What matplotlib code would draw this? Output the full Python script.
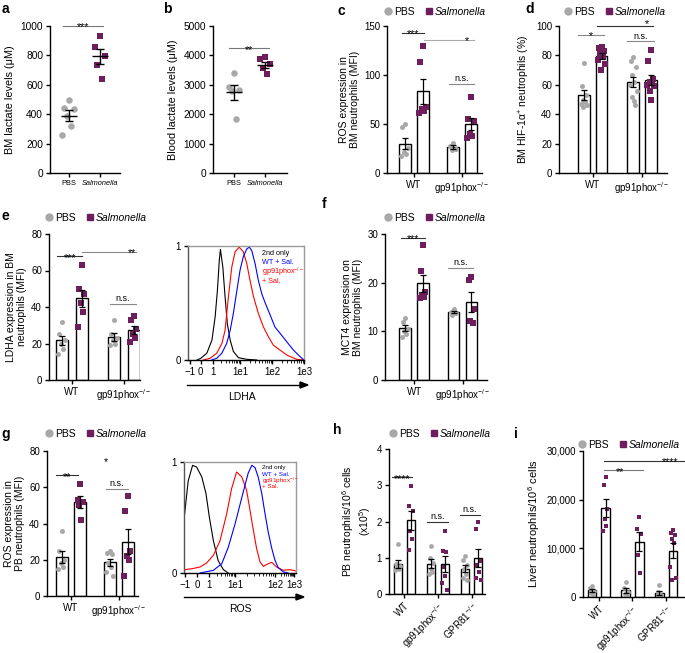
import numpy as np
import matplotlib.pyplot as plt
from matplotlib.lines import Line2D

plt.rcParams['font.family'] = ['Liberation Sans', 'DejaVu Sans']
plt.rcParams['mathtext.fontset'] = 'custom'
plt.rcParams['mathtext.rm'] = 'Liberation Sans'
plt.rcParams['mathtext.it'] = 'Liberation Sans:italic'
plt.rcParams['axes.linewidth'] = 1.0
plt.rcParams['xtick.major.width'] = 1.0
plt.rcParams['ytick.major.width'] = 1.0
plt.rcParams['xtick.major.size'] = 3
plt.rcParams['ytick.major.size'] = 3
plt.rcParams['xtick.major.pad'] = 2
plt.rcParams['ytick.major.pad'] = 2

W, H = 685, 653
PURPLE = '#6e1e5c'
GREY = '#a8a8a8'

# ---------------- data ----------------
# a / b : lactate
a_pbs = [500, 440, 432, 390, 320, 260]
a_sal = [935, 860, 795, 735, 640]
b_pbs = [3390, 2910, 2820, 2800, 1820]
b_sal = [3930, 3865, 3705, 3555, 3365]

geno2 = ['WT', 'gp91phox$^{-/-}$']
geno3 = ['WT', 'gp91phox$^{-/-}$', 'GPR81$^{-/-}$']

# c : ROS in BM neutrophils
c_pbs = [[50, 47, 26, 21, 19, 17], [31, 28, 25, 23]]
c_sal = [[130, 113, 67, 65, 63, 61], [78, 55, 53, 40, 38, 36]]
# d : HIF-1a+ neutrophils
d_pbs = [[75, 59, 53, 50, 48, 47, 46, 45], [79, 76, 72, 67, 62, 60, 56, 52, 49, 46]]
d_sal = [[86, 85, 83, 81, 79, 77, 74, 70], [84, 76, 64, 62, 61, 60, 59, 56, 50]]
# e : LDHA
e_pbs = [[32, 25, 22, 20, 17, 14], [33, 25, 23, 22, 20, 19]]
e_sal = [[63, 50, 47, 42, 37, 29], [35, 33, 28, 25, 23, 21]]
# f : MCT4
f_pbs = [[12.8, 12.0, 10.5, 10.0, 9.5, 8.8], [14.5, 14.0, 13.7, 13.4]]
f_sal = [[27.7, 22.4, 18.0, 17.5, 17.0, 16.8], [21.2, 20.6, 14.5, 12.2, 11.8]]
# g : ROS in PB neutrophils
g_pbs = [[36, 25, 20, 18, 16, 15], [25, 24, 23, 18, 16, 13, 11]]
g_sal = [[62, 53, 52, 50, 42], [55, 47, 25, 22, 20, 11]]
# h : PB neutrophils
h_pbs = [[1.37, 0.82, 0.78, 0.72, 0.68, 0.65], [1.33, 1.0, 0.85, 0.7, 0.6, 0.55],
         [1.05, 0.95, 0.8, 0.7, 0.55, 0.45, 0.4]]
h_sal = [[2.98, 2.42, 2.3, 1.75, 1.52, 1.22], [1.75, 1.2, 1.15, 0.75, 0.5, 0.3, 0.1],
         [2.0, 1.78, 0.9, 0.8, 0.6, 0.45, 0.4]]
# i : liver neutrophils
i_pbs = [[2300, 1900, 1200, 900, 500], [3100, 1800, 1000, 700, 300], [2500, 1000, 500, 300, 200]]
i_sal = [[24700, 23000, 18000, 16000, 14500, 13500], [16400, 14000, 13000, 8600, 5000],
         [13700, 13200, 12800, 12000, 11000, 6200, 4000, 3500]]

# histogram curves (x in display decades, y normalised to mode)
e_black_x = [-0.35, -0.23, -0.04, 0.12, 0.22, 0.29, 0.35, 0.385, 0.46, 0.53, 0.60, 0.69, 0.79, 0.95, 1.21, 1.52]
e_black_y = [0, 0.015, 0.06, 0.175, 0.38, 0.61, 0.875, 0.97, 0.815, 0.555, 0.32, 0.175, 0.075, 0.02, 0.006, 0]
e_blue_x = [0.115, 0.27, 0.43, 0.58, 0.69, 0.79, 0.90, 1.0, 1.10, 1.21, 1.29, 1.365, 1.47, 1.57, 1.68, 1.78,
            1.94, 2.09, 2.25, 2.46, 2.67, 2.875, 3.0]
e_blue_y = [0, 0.015, 0.06, 0.145, 0.26, 0.41, 0.61, 0.79, 0.905, 0.975, 0.99, 0.96, 0.845, 0.70, 0.58, 0.505,
            0.395, 0.29, 0.235, 0.16, 0.087, 0.03, 0]
e_red_x = [-0.15, 0.06, 0.27, 0.43, 0.53, 0.635, 0.74, 0.845, 0.97, 1.10, 1.21, 1.31, 1.42, 1.57, 1.73, 1.885,
           2.04, 2.25, 2.46, 2.77, 3.0]
e_red_y = [0, 0.015, 0.06, 0.145, 0.26, 0.555, 0.815, 0.95, 0.99, 0.95, 0.845, 0.70, 0.555, 0.41, 0.29, 0.205,
           0.13, 0.087, 0.044, 0.006, 0]
e_ticks = [-0.58, -0.23, 0.15, 1, 2, 3]

g_black_x = [-0.26, -0.17, -0.06, 0.04, 0.17, 0.275, 0.36, 0.46, 0.58, 0.71, 0.83]
g_black_y = [0.53, 0.83, 0.97, 0.955, 0.865, 0.715, 0.5, 0.29, 0.11, 0.03, 0]
g_blue_x = [0.125, 0.46, 0.67, 0.83, 1.0, 1.17, 1.33, 1.42, 1.5, 1.58, 1.67, 1.75, 1.83, 1.92, 2.0, 2.08, 2.21, 2.33]
g_blue_y = [0, 0.024, 0.084, 0.23, 0.44, 0.68, 0.9, 0.97, 0.95, 0.865, 0.715, 0.535, 0.37, 0.22, 0.114, 0.048,
            0.009, 0]
g_red_x = [-0.26, -0.06, 0.125, 0.29, 0.46, 0.625, 0.79, 0.915, 1.04, 1.17, 1.29, 1.375, 1.46, 1.54, 1.625, 1.71,
           1.83, 1.92, 2.04, 2.21, 2.375, 2.525]
g_red_y = [0.03, 0.04, 0.054, 0.09, 0.16, 0.29, 0.53, 0.76, 0.91, 0.865, 0.745, 0.565, 0.384, 0.22, 0.1, 0.06,
           0.084, 0.096, 0.054, 0.024, 0.03, 0.018]
g_ticks = [-0.25, 0.05, 0.35, 1, 2, 2.475]
hist_labels = ['\u22121', '0', '1', '1e1', '1e2', '1e3']

# ---------------- helpers ----------------
fig = plt.figure(figsize=(W / 100, H / 100), dpi=100)


def px_ax(l, t, r, b):
    return fig.add_axes([l / W, 1 - b / H, (r - l) / W, (b - t) / H])


def ftext(x, y, s, **kw):
    fig.text(x / W, 1 - y / H, s, **kw)


JIT = np.array([0, -0.7, 0.7, -0.35, 0.35, -1, 1, -0.2, 0.2, 0.55])


def sem(v):
    v = np.asarray(v, float)
    return v.std(ddof=1) / np.sqrt(len(v))


def sig(ax, x1, x2, y, txt='', color='#555555', tx=None, stars=True, fs=None, dy=-3.2):
    ax.plot([x1, x2], [y, y], color=color, lw=0.8, clip_on=False)
    if txt:
        tx = (x1 + x2) / 2 if tx is None else tx
        if stars:
            ax.annotate(txt, (tx, y), xytext=(0, dy), textcoords='offset points',
                        ha='center', va='baseline', fontsize=fs or 7.8, annotation_clip=False)
        else:
            ax.annotate(txt, (tx, y), xytext=(0, 0.5), textcoords='offset points',
                        ha='center', va='bottom', fontsize=fs or 6.5, annotation_clip=False)


def legend_at(x, y, fs=7.5):
    hd = [Line2D([], [], marker='o', ls='', color=GREY, ms=5),
          Line2D([], [], marker='s', ls='', color=PURPLE, ms=4.5)]
    leg = fig.legend(hd, ['PBS', 'Salmonella'], loc='center left', bbox_to_anchor=(x / W, 1 - y / H),
                     ncol=2, frameon=False, fontsize=fs, handletextpad=0.2, columnspacing=0.9,
                     borderaxespad=0, borderpad=0, handlelength=0.8)
    leg.get_texts()[1].set_style('italic')


def bar_panel(box, pbs, sal, ylim, yticks, ylabel, xlim, xlabels, off, bw, ms=13,
              yticklabels=None, rot=0, lab_fs=7.5, tick_fs=7):
    ax = px_ax(*box)
    for i in range(len(pbs)):
        for vals, dx, mk, col in ((pbs[i], -off, 'o', GREY), (sal[i], off, 's', PURPLE)):
            x = i + dx
            m = np.mean(vals)
            ax.bar(x, m, bw, color='white', edgecolor='black', lw=1, zorder=1)
            ax.scatter(x + JIT[:len(vals)] * bw * 0.3, vals, s=ms, marker=mk, color=col, lw=0, zorder=2)
            ax.errorbar(x, m, yerr=sem(vals), color='black', capsize=2, lw=0.9, capthick=0.9, zorder=3)
    ax.spines[['top', 'right']].set_visible(False)
    ax.set_xlim(*xlim)
    ax.set_ylim(*ylim)
    ax.set_yticks(yticks)
    if yticklabels:
        ax.set_yticklabels(yticklabels)
    ax.set_xticks(range(len(pbs)))
    if rot:
        ax.set_xticklabels(xlabels, rotation=rot, ha='right', rotation_mode='anchor')
    else:
        ax.set_xticklabels(xlabels)
    ax.tick_params(labelsize=tick_fs)
    ax.set_ylabel(ylabel, fontsize=lab_fs, labelpad=3, linespacing=1.1)
    return ax


def dot_panel(box, pbs, sal, ylim, yticks, ylabel, xlim):
    ax = px_ax(*box)
    for i, (vals, mk, col) in enumerate(((pbs, 'o', GREY), (sal, 's', PURPLE))):
        m = np.mean(vals)
        ax.scatter(i + JIT[:len(vals)] * 0.22, vals, s=22, marker=mk, color=col, lw=0, zorder=2)
        ax.hlines(m, i - 0.25, i + 0.25, color='black', lw=1, zorder=3)
        ax.errorbar(i, m, yerr=sem(vals), color='black', capsize=3, lw=1, capthick=1, zorder=3)
    ax.spines[['top', 'right']].set_visible(False)
    ax.set_xlim(*xlim)
    ax.set_ylim(*ylim)
    ax.set_yticks(yticks)
    ax.set_xticks([0, 1])
    ax.set_xticklabels(['PBS', 'Salmonella'], fontsize=5.3)
    ax.get_xticklabels()[1].set_style('italic')
    ax.tick_params(axis='y', labelsize=7.3)
    ax.set_ylabel(ylabel, fontsize=7.8, labelpad=4)
    return ax


def hist_panel(box, curves, ticks, xlim, minors, txt_xy, txt_fs, txt_dy, arrow, label, label_xy):
    ax = px_ax(*box)
    for (xs, ys), c in zip(curves, ['black', 'red', 'blue']):
        ax.plot(xs, ys, color=c, lw=0.8)
    ax.set_xlim(*xlim)
    ax.set_ylim(0, 1)
    ax.set_xticks(ticks)
    ax.set_xticklabels(hist_labels, fontsize=7)
    ax.set_xticks(minors, minor=True)
    ax.tick_params(axis='x', which='minor', length=1.8, width=0.6)
    ax.set_yticks([0, 1])
    ax.set_yticklabels(['0', '1'], fontsize=7)
    for s in ('top', 'right'):
        ax.spines[s].set_color('#9a9a9a')
    ax.spines['left'].set_color('#555555')
    x0, y0 = txt_xy
    for k, (s, c) in enumerate((('2nd only', 'black'), ('WT + Sal.', 'blue'),
                                ('gp91phox$^{-/-}$', 'red'), ('+ Sal.', 'red'))):
        ftext(x0, y0 + k * txt_dy, s, color=c, fontsize=txt_fs, va='center', ha='left')
    (ax1, ax2, ay) = arrow
    fig.add_artist(plt.Line2D([ax1 / W, ax2 / W], [1 - ay / H, 1 - ay / H], color='black', lw=1))
    fig.patches.append(plt.Polygon([[ax2 / W, 1 - (ay - 3) / H], [(ax2 + 8) / W, 1 - ay / H],
                                    [ax2 / W, 1 - (ay + 3) / H]], closed=True, color='black',
                                   transform=fig.transFigure, figure=fig))
    ftext(label_xy[0], label_xy[1], label, fontsize=7.5, ha='center', va='center')
    return ax


def minor_ticks(start, end, span):
    return [start + span * np.log10(k) for k in range(2, 10)] if end else []


# ---------------- panels ----------------
# a
ax = dot_panel((50, 26, 120, 173), a_pbs, a_sal, (0, 1000), [0, 200, 400, 600, 800, 1000],
               'BM lactate levels (\u03bcM)', (-0.61, 1.65))
sig(ax, -0.2, 1.1, 1000, '***', color='#777777')
# b
ax = dot_panel((213, 26, 287, 173), b_pbs, b_sal, (0, 5000), [0, 1000, 2000, 3000, 4000, 5000],
               'Blood lactate levels (\u03bcM)', (-0.68, 1.71))
sig(ax, -0.16, 1.13, 4240, '**', color='#777777')

# c
ax = bar_panel((387, 26, 482, 173), c_pbs, c_sal, (0, 150), [0, 50, 100, 150],
               'ROS expression in\nBM neutrophils (MFI)', (-0.5625, 1.417), geno2, 0.1875, 0.25)
sig(ax, -0.26, 0.21, 143, '***', color='#333333')
sig(ax, 0.21, 1.26, 136, color='#aaaaaa')
sig(ax, 1.1, 1.1, 136, '*', color='#aaaaaa', tx=1.1)
sig(ax, 0.73, 1.26, 91, 'n.s.', color='#888888', stars=False)
legend_at(384, 12)

# d
ax = bar_panel((559, 26, 667, 173), d_pbs, d_sal, (0, 100), [0, 20, 40, 60, 80, 100],
               'BM HIF-1\u03b1$^{+}$ neutrophils (%)', (-0.69, 1.51), geno2, 0.18, 0.235)
sig(ax, -0.3, 0.22, 94, '*', color='#888888')
sig(ax, 0.08, 1.22, 100, color='#333333')
sig(ax, 1.1, 1.1, 100, '*', tx=1.1, dy=-0.8)
sig(ax, 0.7, 1.24, 89.5, 'n.s.', color='#888888', stars=False)
legend_at(564, 12)

# e
ax = bar_panel((49, 234, 140, 380), e_pbs, e_sal, (0, 80), [0, 20, 40, 60, 80],
               'LDHA expression in BM\nneutrophils (MFI)', (-0.44, 1.31), geno2, 0.19, 0.23)
sig(ax, -0.28, 0.2, 67.7, '***', color='#333333')
sig(ax, 0.2, 1.24, 70.1, color='#888888')
sig(ax, 1.15, 1.15, 70.1, '**', tx=1.15)
sig(ax, 0.73, 1.24, 41.6, 'n.s.', color='#888888', stars=False)
legend_at(45, 218)

e_minor = (minor_ticks(0.15, 1, 0.85) + minor_ticks(1, 1, 1) + minor_ticks(2, 1, 1))
hist_panel((188, 246, 304, 360), [(e_black_x, e_black_y), (e_red_x, e_red_y), (e_blue_x, e_blue_y)],
           e_ticks, (-0.63, 3.0), e_minor, (262, 253), 5.2, 9.5, (187, 300, 385), 'LDHA', (242, 397))

# f
ax = bar_panel((385, 234, 487, 380), f_pbs, f_sal, (0, 30), [0, 10, 20, 30],
               'MCT4 expression on\nBM neutrophils (MFI)', (-0.6, 1.505), geno2, 0.185, 0.24)
sig(ax, -0.27, 0.23, 29.2, '***', color='#333333')
sig(ax, 0.71, 1.21, 23, 'n.s.', color='#888888', stars=False)
legend_at(384, 218)

# g
ax = bar_panel((47, 451, 138, 596), g_pbs, g_sal, (0, 80), [0, 20, 40, 60, 80],
               'ROS expression in\nPB neutrophils (MFI)', (-0.5, 1.4), geno2, 0.19, 0.25)
sig(ax, -0.31, 0.15, 66.6, '**', color='#333333')
ax.annotate('*', (0.74, 74.9), xytext=(0, -3.2), textcoords='offset points', ha='center',
            va='baseline', fontsize=7.8, annotation_clip=False)
sig(ax, 0.73, 1.19, 59.3, 'n.s.', color='#888888', stars=False)
legend_at(45, 434)

g_minor = (minor_ticks(0.35, 1, 0.65) + minor_ticks(1, 1, 1) + minor_ticks(2, 1, 0.475))
hist_panel((184, 462, 296, 573), [(g_black_x, g_black_y), (g_red_x, g_red_y), (g_blue_x, g_blue_y)],
           g_ticks, (-0.275, 2.525), g_minor, (262, 468), 4.5, 6.2, (184, 296, 597), 'ROS', (240, 609))

# h
ax = bar_panel((389, 449, 485, 594), h_pbs, h_sal, (0, 4), [0, 1, 2, 3, 4],
               'PB neutrophils/10$^{6}$ cells\n(x10$^{5}$)', (-0.46, 2.4), geno3, 0.195, 0.24,
               ms=12, rot=45, lab_fs=7.5)
sig(ax, -0.38, 0.24, 3.22, '****', color='#333333')
sig(ax, 0.68, 1.31, 2.0, 'n.s.', color='#333333', stars=False)
sig(ax, 1.66, 2.25, 2.19, 'n.s.', color='#333333', stars=False)
legend_at(389, 434)

# i
ax = bar_panel((583, 451, 685, 597), i_pbs, i_sal, (0, 30000), [0, 10000, 20000, 30000],
               'Liver neutrophils/10$^{6}$ cells', (-0.47, 2.56), geno3, 0.2, 0.26,
               ms=12, rot=45, yticklabels=['0', '10,000', '20,000', '30,000'], lab_fs=8)
sig(ax, 0.14, 1.32, 26000, '**', color='#777777', tx=0.63)
sig(ax, 0.14, 2.56, 27950, '****', color='#333333', tx=2.12)
legend_at(578, 445)

# panel letters
for s, x, y in (('a', 2, 13), ('b', 163, 13), ('c', 338, 15), ('d', 525, 13), ('e', 2, 220),
                ('f', 322, 208), ('g', 1, 438), ('h', 333, 434), ('i', 514, 438)):
    ftext(x, y, s, fontsize=10, fontweight='bold', va='baseline', ha='left')

fig.savefig('out.png', dpi=100)
